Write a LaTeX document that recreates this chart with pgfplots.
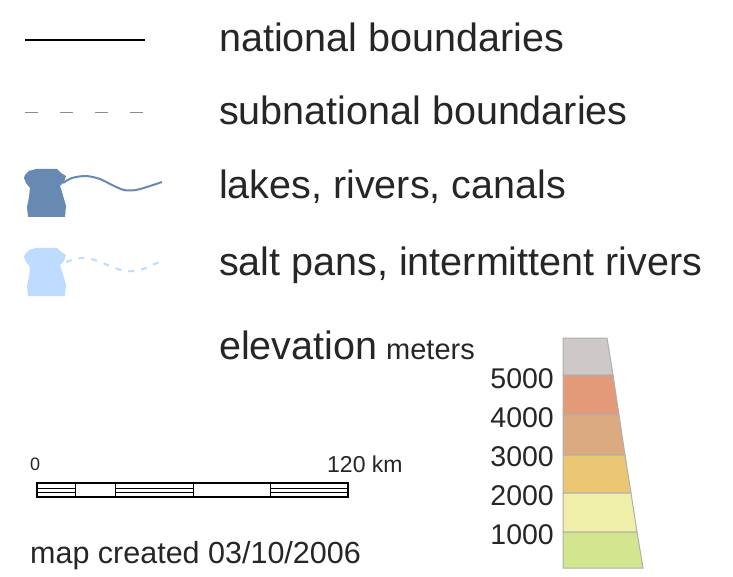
\documentclass[border=0pt]{standalone}
\usepackage{pgfplots}
\pgfplotsset{compat=1.18}
\usepackage{fontspec}
\setmainfont{Liberation Sans}
\definecolor{lakeblue}{RGB}{104,138,178}
\definecolor{saltblue}{RGB}{190,220,255}
\definecolor{eg}{RGB}{207,200,200}
\definecolor{eo}{RGB}{227,154,120}
\definecolor{et}{RGB}{220,170,128}
\definecolor{ey}{RGB}{235,199,116}
\definecolor{el}{RGB}{239,239,170}
\definecolor{eG}{RGB}{211,229,142}
\definecolor{eb}{RGB}{175,175,175}
\begin{document}
\begin{tikzpicture}
\begin{axis}[
  scale only axis, width=733pt, height=577pt,
  xmin=0, xmax=733, ymin=0, ymax=577, y dir=reverse,
  hide axis, clip=false,
]
\addplot[fill=white, draw=none] coordinates {(0,0) (733,0) (733,577) (0,577)} -- cycle;
% national boundary
\addplot[black, line width=1.2pt] coordinates {(25,40) (145,40)};
% subnational
\addplot[black!45, line width=1pt, dash pattern=on 13pt off 22pt] coordinates {(25,113) (145,113)};
% lakes
\addplot[fill=lakeblue, draw=none] coordinates {(25,175) (29,171) (36,169) (57,169) (61,173) (66,176) (64,182) (60,186) (62,192) (64,199) (66,206) (65,217) (28,217) (27,207) (29,197) (30,188) (26,183) (24,178)} -- cycle;
\addplot[lakeblue, line width=2pt, smooth] coordinates {(63,183) (72,178) (86,176) (100,179) (112,185) (124,190) (136,190) (150,186) (162,182)};
% salt pans
\addplot[fill=saltblue, draw=none] coordinates {(25,254) (29,250) (36,248) (57,248) (61,252) (66,255) (64,261) (60,265) (62,271) (64,278) (66,285) (65,296) (28,296) (27,286) (29,276) (30,267) (26,262) (24,257)} -- cycle;
\addplot[saltblue, line width=2pt, smooth, dash pattern=on 6pt off 7pt] coordinates {(66,262) (80,258) (95,260) (110,266) (125,271) (140,270) (152,265) (162,261)};
% elevation bands
\addplot[fill=eg, draw=eb, line width=1pt] coordinates {(563,338) (607,338) (613,375) (563,375)} -- cycle;
\addplot[fill=eo, draw=eb, line width=1pt] coordinates {(563,375) (613,375) (619,415) (563,415)} -- cycle;
\addplot[fill=et, draw=eb, line width=1pt] coordinates {(563,415) (619,415) (625,455) (563,455)} -- cycle;
\addplot[fill=ey, draw=eb, line width=1pt] coordinates {(563,455) (625,455) (631,493) (563,493)} -- cycle;
\addplot[fill=el, draw=eb, line width=1pt] coordinates {(563,493) (631,493) (637,532) (563,532)} -- cycle;
\addplot[fill=eG, draw=eb, line width=1pt] coordinates {(563,532) (637,532) (643,568) (563,568)} -- cycle;
% scale bar
\addplot[fill=white, draw=black, line width=1.2pt] coordinates {(37,483) (348,483) (348,497) (37,497)} -- cycle;
\addplot[black, line width=1pt] coordinates {(75,483) (75,497)};
\addplot[black, line width=1pt] coordinates {(115,483) (115,497)};
\addplot[black, line width=1pt] coordinates {(193,483) (193,497)};
\addplot[black, line width=1pt] coordinates {(270,483) (270,497)};
\addplot[black, line width=0.8pt] coordinates {(37,488) (75,488)};
\addplot[black, line width=0.8pt] coordinates {(37,492) (75,492)};
\addplot[black, line width=0.8pt] coordinates {(115,488) (193,488)};
\addplot[black, line width=0.8pt] coordinates {(115,492) (193,492)};
\addplot[black, line width=0.8pt] coordinates {(270,488) (348,488)};
\addplot[black, line width=0.8pt] coordinates {(270,492) (348,492)};
% texts
\node[anchor=west, inner sep=0pt, text=black!85] at (axis cs:219,37) {\fontsize{39.5}{44}\selectfont national boundaries};
\node[anchor=west, inner sep=0pt, text=black!85] at (axis cs:219,110) {\fontsize{39.5}{44}\selectfont subnational boundaries};
\node[anchor=west, inner sep=0pt, text=black!85] at (axis cs:219,187) {\fontsize{39.5}{44}\selectfont lakes, rivers, canals};
\node[anchor=west, inner sep=0pt, text=black!85] at (axis cs:219,265) {\fontsize{39.5}{44}\selectfont salt pans, intermittent rivers};
\node[anchor=west, inner sep=0pt, text=black!85] at (axis cs:219,345) {\fontsize{39.5}{44}\selectfont elevation};
\node[anchor=west, inner sep=0pt, text=black!85] at (axis cs:386,350) {\fontsize{29}{32}\selectfont meters};
\node[anchor=east, inner sep=0pt, text=black!85] at (axis cs:554,379) {\fontsize{28.5}{30}\selectfont 5000};
\node[anchor=east, inner sep=0pt, text=black!85] at (axis cs:554,418) {\fontsize{28.5}{30}\selectfont 4000};
\node[anchor=east, inner sep=0pt, text=black!85] at (axis cs:554,457) {\fontsize{28.5}{30}\selectfont 3000};
\node[anchor=east, inner sep=0pt, text=black!85] at (axis cs:554,496) {\fontsize{28.5}{30}\selectfont 2000};
\node[anchor=east, inner sep=0pt, text=black!85] at (axis cs:554,535) {\fontsize{28.5}{30}\selectfont 1000};
\node[anchor=west, inner sep=0pt, text=black!85] at (axis cs:30,464) {\fontsize{18}{22}\selectfont 0};
\node[anchor=west, inner sep=0pt, text=black!85] at (axis cs:327,464) {\fontsize{23}{26}\selectfont 120 km};
\node[anchor=west, inner sep=0pt, text=black!85] at (axis cs:30,556) {\fontsize{30.5}{34}\selectfont map created 03/10/2006};
\end{axis}
\end{tikzpicture}
\end{document}
